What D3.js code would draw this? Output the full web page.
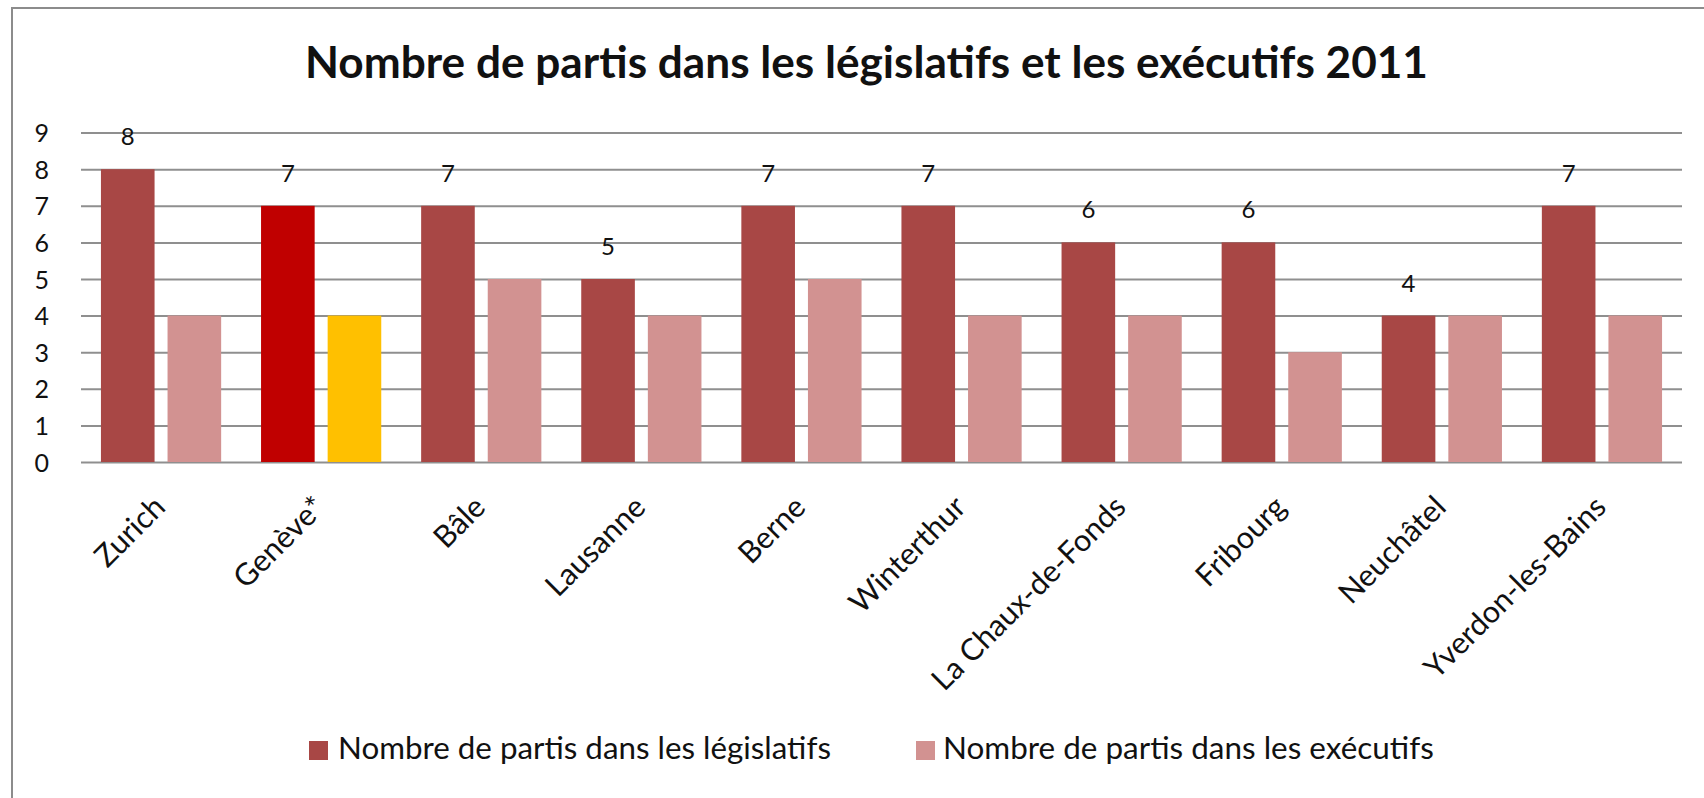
<!DOCTYPE html>
<html>
<head>
<meta charset="utf-8">
<script src="https://cdn.jsdelivr.net/npm/d3@7"></script>
<style>
  html, body { margin: 0; padding: 0; background: #fff; }
  svg { display: block; }
  text { font-family: Lato, "Open Sans", sans-serif; fill: #111; }
</style>
</head>
<body>
<svg id="chart" width="1704" height="798"></svg>
<script>
// ---- data ----
const categories = ["Zurich", "Genève*", "Bâle", "Lausanne", "Berne", "Winterthur", "La Chaux-de-Fonds", "Fribourg", "Neuchâtel", "Yverdon-les-Bains"];
const legislatifs = [8, 7, 7, 5, 7, 7, 6, 6, 4, 7];
const executifs = [4, 4, 5, 4, 5, 4, 4, 3, 4, 4];
const seriesNames = ["Nombre de partis dans les législatifs", "Nombre de partis dans les exécutifs"];
const yTicks = [0, 1, 2, 3, 4, 5, 6, 7, 8, 9];
const titleText = "Nombre de partis dans les législatifs et les exécutifs 2011";

// ---- styles ----
const seriesColors = ["#A84745", "#D29291"];
const highlightCategory = "Genève*";
const highlightColors = ["#C00000", "#FFC000"];

const svg = d3.select("#chart");
const W = 1704, H = 798;
const plot = { left: 81, right: 1682, top: 132.6, bottom: 462 };

// outer border
svg.append("rect").attr("x", 12).attr("y", 8).attr("width", W + 20).attr("height", H + 20)
  .attr("fill", "none").attr("stroke", "#8c8c8c").attr("stroke-width", 2);

// scales
const x0 = d3.scaleBand().domain(categories).range([plot.left, plot.right]).paddingInner(0).paddingOuter(0);
const x1 = d3.scaleBand().domain([0, 1]).range([0, x0.bandwidth()]).paddingInner(0.195).paddingOuter(0.2995);
const y = d3.scaleLinear().domain([0, 9]).range([plot.bottom, plot.top]);

// y axis with gridlines
const yAxis = svg.append("g").attr("transform", `translate(${plot.left},0)`)
  .call(d3.axisLeft(y).tickValues(yTicks).tickSize(-(plot.right - plot.left)).tickPadding(32).tickFormat(d3.format("d")));
yAxis.select(".domain").remove();
yAxis.selectAll(".tick line").attr("stroke", "#8f8f8f").attr("stroke-width", 2);
yAxis.selectAll(".tick text").style("font-size", "25px").attr("fill", "#111").attr("dy", "0.36em");

// bars
const rows = categories.map((c, i) => ({ cat: c, vals: [legislatifs[i], executifs[i]] }));
const groups = svg.append("g").selectAll("g").data(rows).join("g")
  .attr("transform", d => `translate(${x0(d.cat)},0)`);
groups.selectAll("rect").data(d => d.vals.map((v, k) => ({ cat: d.cat, v, k }))).join("rect")
  .attr("x", d => x1(d.k))
  .attr("width", x1.bandwidth())
  .attr("y", d => y(d.v))
  .attr("height", d => y(0) - y(d.v))
  .attr("fill", d => d.cat === highlightCategory ? highlightColors[d.k] : seriesColors[d.k]);

// data labels on legislative series
groups.append("text")
  .attr("x", x1(0) + x1.bandwidth() / 2)
  .attr("y", d => y(d.vals[0]) - 24)
  .attr("text-anchor", "middle")
  .style("font-size", "24px")
  .text(d => d.vals[0]);

// x axis labels
const xAxis = svg.append("g").attr("transform", `translate(0,${plot.bottom})`)
  .call(d3.axisBottom(x0).tickSize(0));
xAxis.select(".domain").remove();
xAxis.selectAll(".tick text")
  .attr("x", 0).attr("y", 0).attr("dy", 0)
  .attr("transform", "translate(6,47) rotate(-45)")
  .style("text-anchor", "end")
  .style("font-size", "30.5px")
  .attr("fill", "#222");

// title (fit to measured width)
const title = svg.append("text")
  .attr("x", 866.5).attr("y", 78)
  .attr("text-anchor", "middle")
  .style("font-weight", "bold")
  .style("font-size", "40px")
  .attr("fill", "#000")
  .text(titleText);
{
  const w = title.node().getComputedTextLength();
  title.style("font-size", (40 * 1123 / w).toFixed(2) + "px");
}

// legend
const legendItems = [
  { name: seriesNames[0], color: seriesColors[0], sx: 309, tx: 338, tw: 493 },
  { name: seriesNames[1], color: seriesColors[1], sx: 916, tx: 943, tw: 491 }
];
const lg = svg.append("g");
legendItems.forEach(it => {
  lg.append("rect").attr("x", it.sx).attr("y", 741).attr("width", 19).attr("height", 19).attr("fill", it.color);
  const t = lg.append("text").attr("x", it.tx).attr("y", 759).style("font-size", "25px").attr("fill", "#111").text(it.name);
  const w = t.node().getComputedTextLength();
  t.style("font-size", (25 * it.tw / w).toFixed(2) + "px");
});
</script>
</body>
</html>
